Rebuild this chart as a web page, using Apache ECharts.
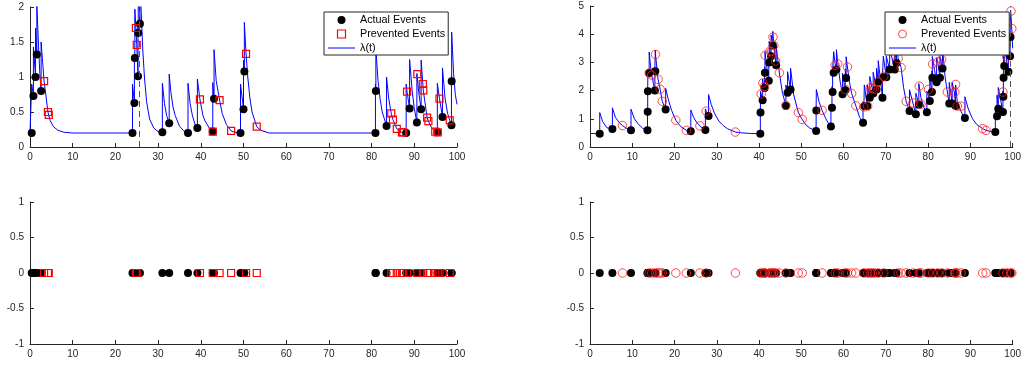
<!DOCTYPE html>
<html><head><meta charset="utf-8">
<script src="https://cdn.jsdelivr.net/npm/echarts@6/dist/echarts.min.js"></script>
<style>html,body{margin:0;padding:0;background:#fff}#c{width:1024px;height:366px}</style>
</head><body><div id="c"></div>
<script>
// ---- tick labels ----
const X_TICKS = [0,10,20,30,40,50,60,70,80,90,100];
const TL_Y_TICKS = [0,0.5,1,1.5,2];
const TR_Y_TICKS = [0,1,2,3,4,5];
const BOT_Y_TICKS = [-1,-0.5,0,0.5,1];

// ---- left panel: actual events (time, lambda just before, lambda just after) ----
const tlActT = [0.4,0.8,1.3,1.6,2.6,24.0,24.45,24.55,25.3,25.35,25.75,31.0,32.6,37.0,39.2,42.8,43.1,49.3,50.0,50.2,80.9,81.0,83.5,88.1,88.9,90.6,91.6,95.4,96.6,98.7,98.75];
const tlActV = [0.2,0.73,1.0,1.32,0.8,0.2,0.63,1.27,1.01,1.63,1.76,0.21,0.34,0.2,0.27,0.22,0.69,0.2,0.54,1.08,0.2,0.8,0.3,0.2,0.55,0.35,0.54,0.21,0.43,0.31,0.94];
const tlActJ = [0.9,1.43,1.7,2.02,1.5,0.9,1.33,1.97,1.71,2.33,2.46,0.91,1.04,0.91,0.97,0.92,1.39,0.9,1.24,1.78,0.9,1.4,1.0,0.9,1.25,1.05,1.24,0.91,1.13,1.01,1.64];
// prevented events
const tlPrevT = [3.3,4.2,4.4,24.8,25.0,39.8,42.8,44.4,47.1,50.6,53.1,84.6,85.0,85.9,87.1,87.4,88.3,90.7,92.0,92.1,93.0,93.3,94.9,95.5,95.9,98.3];
const tlPrevV = [0.94,0.5,0.46,1.70,1.46,0.68,0.22,0.67,0.23,1.33,0.29,0.48,0.39,0.26,0.21,0.21,0.79,1.04,0.9,0.81,0.42,0.37,0.22,0.21,0.69,0.38];
// lambda(t) points
const tlKnots = [[0,0.2],[2.0,1.45],[2.3,1.05],[3.0,1.18],[3.3,0.94],[3.8,0.7],[4.2,0.5],[4.7,0.38],[5.5,0.29],[6.5,0.24],[8,0.21],[10,0.2],[24.8,1.70],[25.0,1.46],[26.0,2.0],[26.4,1.4],[26.8,1.0],[27.3,0.65],[28,0.4],[29,0.27],[30,0.22],[31.5,0.62],[32,0.45],[33,0.78],[33.5,0.57],[34,0.45],[35,0.3],[36,0.23],[37.5,0.62],[38,0.46],[38.6,0.33],[39.8,0.68],[40.5,0.45],[41,0.37],[42,0.27],[43.6,0.95],[44.4,0.67],[45,0.48],[46,0.32],[47.1,0.23],[48,0.21],[50.6,1.33],[51,1.0],[51.5,0.7],[52,0.5],[53.1,0.29],[54,0.24],[56,0.2],[81.5,0.95],[82,0.68],[82.5,0.5],[84,0.7],[84.6,0.48],[85,0.39],[85.9,0.26],[87.1,0.21],[88.3,0.79],[89.5,0.8],[90,0.55],[91.1,0.75],[92.0,0.9],[92.1,0.81],[93,0.42],[93.3,0.37],[94,0.28],[94.9,0.22],[95.9,0.69],[97.2,0.7],[97.8,0.48],[98.3,0.38],[99.2,1.05],[99.6,0.75],[100,0.61]];
const tlDash = 25.6;

// ---- right panel ----
const trActT = [2.3,5.3,9.7,13.6,13.65,13.7,14.0,15.35,15.45,17.9,23.85,27.3,28.05,40.3,40.35,40.85,41.3,41.4,42.3,42.4,42.85,43.25,44.05,46.35,46.75,47.45,53.5,53.55,57.0,57.25,57.4,57.65,58.3,59.75,60.4,60.6,64.6,64.9,65.6,66.2,67.0,67.8,68.2,69.2,69.4,70.1,70.9,72.1,72.5,75.6,77.1,77.8,79.7,80.4,80.9,81.0,82.0,82.8,83.4,85.0,85.7,86.5,88.7,95.9,96.3,96.6,97.7,97.8,97.85,98.0,99.0,99.4,99.5];
const trActV = [0.47,0.64,0.59,0.59,1.25,1.98,2.62,2.0,2.69,1.33,0.56,0.6,1.1,0.47,1.22,1.66,2.09,2.63,2.35,3.0,3.22,3.6,2.9,1.45,1.92,2.04,0.57,1.29,0.73,1.39,1.95,2.63,2.75,1.87,2.01,2.45,0.86,1.45,1.45,1.75,1.9,2.04,2.31,1.75,2.47,2.47,2.75,2.75,2.98,1.28,1.16,1.5,1.23,1.63,1.95,2.46,2.3,2.46,2.78,1.54,1.54,1.45,1.03,0.53,1.09,1.36,1.24,1.78,2.46,2.87,2.67,3.22,3.9];
const trActJ = [1.22,1.39,1.34,1.34,2.0,2.73,3.37,2.75,3.44,2.08,1.31,1.35,1.86,1.22,1.97,2.41,2.84,3.38,3.1,3.75,3.97,4.1,3.59,2.2,2.67,2.79,1.32,2.04,1.48,2.14,2.7,3.38,3.45,2.62,2.76,3.2,1.61,2.2,2.2,2.5,2.65,2.79,3.06,2.5,3.22,3.22,3.5,3.5,3.73,2.03,1.91,2.25,1.98,2.38,2.7,3.21,3.15,3.21,3.53,2.29,2.29,2.2,1.78,1.28,1.84,2.11,1.99,2.53,3.21,3.62,3.42,3.97,4.85];
const trPrevT = [7.7,14.0,14.6,15.5,16.1,16.6,17.1,20.3,22.8,26.0,27.5,34.4,40.5,40.9,41.3,41.45,42.6,42.9,43.3,43.5,43.9,44.8,46.35,49.3,50.2,54.9,58.0,58.6,60.4,60.9,61.9,62.9,64.8,65.7,66.3,66.8,67.3,68.2,69.5,72.9,73.6,74.8,76.4,77.9,78.3,80.1,81.05,82.3,83.2,84.55,86.3,86.5,86.9,87.8,92.9,93.7,97.7,98.6,99.6,99.8];
const trPrevV = [0.76,2.62,2.55,3.28,2.4,2.05,1.62,0.95,0.59,0.75,1.27,0.53,1.88,2.27,2.15,3.25,3.4,3.38,3.9,3.6,3.05,2.63,1.48,1.22,0.98,1.3,2.9,2.95,2.04,2.84,1.9,1.46,1.42,1.45,2.1,2.08,2.05,2.3,2.5,3.14,2.82,1.62,1.56,2.16,1.52,2.04,2.94,3.02,3.1,1.95,1.95,2.22,1.45,1.45,0.65,0.59,1.95,3.2,4.82,4.2];
const trKnots = [[0,0.48],[3.0,0.9],[4.0,0.68],[6.0,1.05],[7.0,0.85],[7.7,0.76],[8.7,0.65],[10.5,1.0],[11.5,0.8],[12.5,0.66],[14.3,2.9],[14.6,2.55],[15.0,2.25],[15.5,3.28],[16.1,2.4],[16.6,2.05],[17.1,1.62],[18.5,1.7],[19.3,1.3],[20.3,0.95],[21.5,0.72],[22.8,0.59],[24.5,1.05],[25.2,0.88],[26.0,0.75],[26.7,0.66],[27.5,1.27],[28.7,1.5],[29.5,1.18],[30.5,0.92],[31.5,0.76],[32.5,0.65],[34.4,0.53],[36,0.5],[38,0.48],[40.5,1.88],[40.9,2.3],[41.9,2.75],[42.6,3.4],[43.3,3.95],[43.5,3.65],[43.9,3.05],[44.8,2.63],[45.5,1.95],[48.2,1.85],[49.3,1.22],[50.2,0.98],[51,0.8],[52,0.67],[54.2,1.6],[54.9,1.3],[55.8,1.0],[56.5,0.82],[58.0,2.95],[58.6,3.0],[59.2,2.3],[60.9,2.84],[61.4,2.3],[61.9,1.9],[62.9,1.46],[63.8,1.05],[64.8,1.42],[72.9,3.14],[73.6,2.82],[74.2,2.1],[74.8,1.62],[76.4,1.56],[78.3,1.75],[79,1.4],[80.1,1.8],[81.5,2.75],[82.3,3.0],[84,2.5],[84.55,1.95],[86.2,1.95],[86.9,1.6],[87.8,1.25],[89.5,1.35],[90.5,1.0],[91.5,0.8],[92.9,0.65],[93.7,0.59],[94.8,0.55],[99.6,4.7],[99.75,4.3],[100,3.5]];
const trDash = 99.45;

// ---- helpers ----
function buildLambda(evT, evV, evJ, knots) {
  const pts = knots.map(k => ({t:k[0], o:1, v:k[1]}));
  evT.forEach((t,i) => { pts.push({t, o:0, v:evV[i]}); pts.push({t, o:2, v:evJ[i]}); });
  pts.sort((a,b) => (a.t - b.t) || (a.o - b.o));
  return pts.map(p => [p.t, p.v]);
}
const pairs = (ts, vs) => ts.map((t,i) => [t, vs[i]]);
const onZero = ts => ts.map(t => [t, 0]);

const AX = '#262626';
const FONT = 'Liberation Sans, Arial, Helvetica, sans-serif';
function xAx(gi) {
  return {type:'value', gridIndex:gi, min:X_TICKS[0], max:X_TICKS[X_TICKS.length-1], interval:X_TICKS[1]-X_TICKS[0],
    axisLine:{show:true, onZero:false, lineStyle:{color:AX, width:1}},
    axisTick:{show:true, inside:true, length:4, lineStyle:{color:AX}},
    axisLabel:{color:AX, fontSize:10, margin:5, fontFamily:FONT},
    splitLine:{show:false}};
}
function yAx(gi, ticks) {
  return {type:'value', gridIndex:gi, min:ticks[0], max:ticks[ticks.length-1], interval:ticks[1]-ticks[0],
    axisLine:{show:true, onZero:false, lineStyle:{color:AX, width:1}},
    axisTick:{show:true, inside:true, length:4, lineStyle:{color:AX}},
    axisLabel:{color:AX, fontSize:10, margin:6, fontFamily:FONT},
    splitLine:{show:false}};
}
const blackDot = {type:'scatter', symbol:'circle', symbolSize:8, itemStyle:{color:'#000', opacity:1}, z:3, animation:false};
const redSq = {type:'scatter', symbol:'rect', symbolSize:7, itemStyle:{color:'rgba(0,0,0,0)', borderColor:'#ff0000', borderWidth:1.2, opacity:1}, z:4, animation:false};
const redCirc = {type:'scatter', symbol:'circle', symbolSize:8.5, itemStyle:{color:'rgba(0,0,0,0)', borderColor:'rgba(255,30,30,0.8)', borderWidth:1, opacity:1}, z:4, animation:false};
function lam(xi, yi, data, dashX, yTop) {
  return {type:'line', name:'λ(t)', xAxisIndex:xi, yAxisIndex:yi, data, symbol:'none', showSymbol:false,
    lineStyle:{color:'#0000ff', width:1}, itemStyle:{color:'#0000ff'}, z:2, animation:false,
    markLine:{symbol:'none', silent:true, animation:false, label:{show:false},
      lineStyle:{type:[6,4], color:'#555', width:1},
      data:[[{coord:[dashX, 0]}, {coord:[dashX, yTop]}]]}};
}
function legend(left, markerItem) {
  return {left, top:12, orient:'vertical', selectedMode:false, z:10,
    backgroundColor:'#fff', borderColor:'#262626', borderWidth:1, padding:[1,3,0,4],
    itemWidth:27, itemHeight:8, itemGap:0,
    textStyle:{fontSize:10.8, color:'#000', fontFamily:FONT, lineHeight:14},
    data:[
      {name:'Actual Events', icon:'circle', itemStyle:{color:'#000', borderWidth:0, opacity:1}},
      markerItem,
      {name:'λ(t)', icon:'path://M0,0L27,0L27,1L0,1Z', itemStyle:{color:'#0000ff', borderWidth:0, opacity:1}}
    ]};
}

const chart = echarts.init(document.getElementById('c'), null, {renderer:'canvas'});
chart.setOption({
  animation:false,
  backgroundColor:'#fff',
  grid:[
    {left:30, top:7, width:427, height:140},
    {left:30, top:202, width:427, height:142},
    {left:590, top:6, width:428, height:141},
    {left:590, top:202, width:428, height:142}
  ],
  xAxis:[xAx(0), xAx(1), xAx(2), xAx(3)],
  yAxis:[yAx(0, TL_Y_TICKS), yAx(1, BOT_Y_TICKS), yAx(2, TR_Y_TICKS), yAx(3, BOT_Y_TICKS)],
  legend:[
    legend(324, {name:'Prevented Events', icon:'path://M0,0L10,0L10,10L0,10Z', itemStyle:{color:'rgba(0,0,0,0)', borderColor:'#ff0000', borderWidth:1.2, opacity:1}}),
    legend(885, {name:'Prevented Events', icon:'circle', itemStyle:{color:'rgba(0,0,0,0)', borderColor:'rgba(255,30,30,0.8)', borderWidth:1, opacity:1}})
  ],
  series:[
    lam(0, 0, buildLambda(tlActT, tlActV, tlActJ, tlKnots), tlDash, TL_Y_TICKS[TL_Y_TICKS.length-1]),
    Object.assign({}, blackDot, {name:'Actual Events', xAxisIndex:0, yAxisIndex:0, data:pairs(tlActT, tlActV)}),
    Object.assign({}, redSq, {name:'Prevented Events', xAxisIndex:0, yAxisIndex:0, data:pairs(tlPrevT, tlPrevV)}),
    Object.assign({}, blackDot, {name:'Actual Events', xAxisIndex:1, yAxisIndex:1, data:onZero(tlActT)}),
    Object.assign({}, redSq, {name:'Prevented Events', xAxisIndex:1, yAxisIndex:1, data:onZero(tlPrevT)}),
    lam(2, 2, buildLambda(trActT, trActV, trActJ, trKnots), trDash, TR_Y_TICKS[TR_Y_TICKS.length-1]),
    Object.assign({}, blackDot, {name:'Actual Events', xAxisIndex:2, yAxisIndex:2, data:pairs(trActT, trActV)}),
    Object.assign({}, redCirc, {name:'Prevented Events', xAxisIndex:2, yAxisIndex:2, data:pairs(trPrevT, trPrevV)}),
    Object.assign({}, blackDot, {name:'Actual Events', xAxisIndex:3, yAxisIndex:3, data:onZero(trActT)}),
    Object.assign({}, redCirc, {name:'Prevented Events', xAxisIndex:3, yAxisIndex:3, data:onZero(trPrevT)})
  ]
});
</script>
</body></html>
